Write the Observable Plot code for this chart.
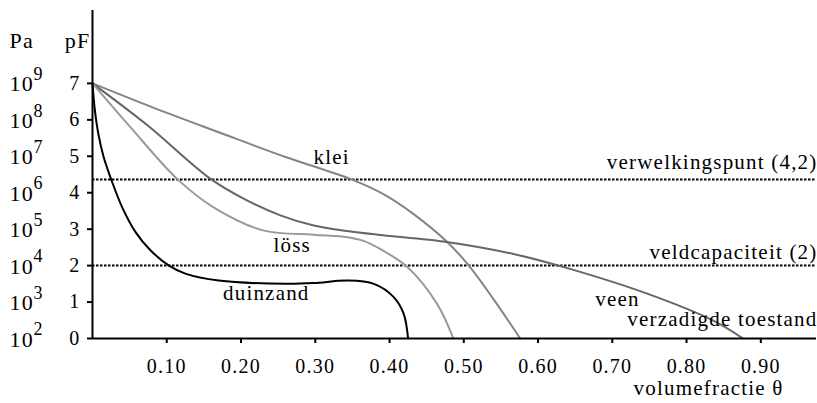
<!DOCTYPE html>
<html>
<head>
<meta charset="utf-8">
<script src="https://cdn.jsdelivr.net/npm/d3@7"></script>
<script src="https://cdn.jsdelivr.net/npm/@observablehq/plot@0.6"></script>
<style>
  html, body { margin: 0; padding: 0; background: #fff; }
  #chart svg, #chart svg text { font-family: "Liberation Serif", "Times New Roman", Times, serif !important; }
  #chart svg text { letter-spacing: 1.2px; }
  #chart svg [aria-label$="axis tick"] { stroke-width: 2px; }
</style>
</head>
<body>
<div id="chart"></div>
<script>
// ---- data ----
const thetaTicks = [0.1, 0.2, 0.3, 0.4, 0.5, 0.6, 0.7, 0.8, 0.9];
const pfTicks = [0, 1, 2, 3, 4, 5, 6, 7];
const paExponents = [2, 3, 4, 5, 6, 7, 8, 9];

const kleiTheta = [0, 0.080, 0.170, 0.260, 0.347, 0.390, 0.432, 0.477, 0.506, 0.540, 0.576];
const kleiPF    = [7, 6.35, 5.66, 4.98, 4.38, 3.98, 3.42, 2.66, 2.02, 1.08, 0];

const veenTheta = [0, 0.074, 0.159, 0.208, 0.253, 0.298, 0.343, 0.388, 0.477, 0.567, 0.643, 0.747, 0.836, 0.876];
const veenPF    = [7, 5.85, 4.38, 3.79, 3.38, 3.10, 2.95, 2.84, 2.65, 2.32, 1.91, 1.23, 0.49, 0];

const lossTheta = [0, 0.051, 0.114, 0.163, 0.231, 0.298, 0.343, 0.365, 0.388, 0.424, 0.464, 0.486];
const lossPF    = [7, 5.80, 4.38, 3.60, 2.96, 2.85, 2.78, 2.68, 2.45, 1.96, 0.95, 0];

const duinTheta = [0, 0.003, 0.008, 0.015, 0.026, 0.040, 0.058, 0.078, 0.103, 0.125, 0.170, 0.260, 0.298, 0.343, 0.379, 0.406, 0.419, 0.425];
const duinPF    = [7, 6.30, 5.60, 4.98, 4.32, 3.60, 2.92, 2.42, 2.00, 1.78, 1.59, 1.50, 1.52, 1.59, 1.50, 1.13, 0.68, 0];

const soilNames  = ["klei", "löss", "duinzand", "veen"];
const soilLabelTheta = [0.322, 0.269, 0.234, 0.707];
const soilLabelPF    = [4.98, 2.55, 1.23, 1.09];

const refLinePF = [4.36, 2];
const refNames  = ["verwelkingspunt (4,2)", "veldcapaciteit (2)", "verzadigde toestand"];
const refLabelPF = [4.84, 2.37, 0.54];

// ---- build ----
const toRows = (xs, ys) => xs.map((x, i) => ({theta: x, pf: ys[i]}));
const series = [
  {rows: toRows(kleiTheta, kleiPF), color: "#858585"},
  {rows: toRows(veenTheta, veenPF), color: "#666666"},
  {rows: toRows(lossTheta, lossPF), color: "#9a9a9a"},
  {rows: toRows(duinTheta, duinPF), color: "#000000"}
];

const font = "'Liberation Serif', 'Times New Roman', serif";

const chart = Plot.plot({
  width: 817,
  height: 403,
  marginLeft: 92,
  marginRight: 1,
  marginTop: 10,
  marginBottom: 65,
  style: {fontFamily: font, fontSize: "20px", color: "#000", background: "#fff", overflow: "visible"},
  x: {domain: [0, 0.975], ticks: thetaTicks, tickFormat: d3.format(".2f"), tickSize: 5, tickPadding: 15, label: null},
  y: {domain: [0, 9], ticks: pfTicks, tickFormat: d3.format("d"), tickSize: 5, tickPadding: 7, label: null},
  marks: [
    Plot.ruleY(refLinePF, {stroke: "#000", strokeWidth: 2, strokeDasharray: "2.5,1.5"}),
    ...series.map(s => Plot.line(s.rows, {x: "theta", y: "pf", stroke: s.color, strokeWidth: 2, curve: "catmull-rom"})),
    Plot.ruleX([0], {stroke: "#000", strokeWidth: 2}),
    Plot.ruleY([0], {stroke: "#000", strokeWidth: 2}),
    Plot.text(soilNames, {x: (d, i) => soilLabelTheta[i], y: (d, i) => soilLabelPF[i], text: d => d, fontSize: 21, fill: "#000"}),
    Plot.text(refNames, {y: (d, i) => refLabelPF[i], text: d => d, frameAnchor: "right", textAnchor: "end", lineAnchor: "middle", dx: 1, fontSize: 21, fill: "#000"}),
    Plot.text(paExponents, {y: d => d - 2, text: () => "10", frameAnchor: "left", textAnchor: "start", lineAnchor: "middle", dx: -83, dy: 1, fontSize: 22, fill: "#000"}),
    Plot.text(paExponents, {y: d => d - 2, text: d => String(d), frameAnchor: "left", textAnchor: "start", lineAnchor: "middle", dx: -59, dy: -9, fontSize: 18, fill: "#000"}),
    Plot.text(["Pa"], {text: d => d, frameAnchor: "top-left", textAnchor: "start", lineAnchor: "middle", dx: -83, dy: 30, fontSize: 22, fill: "#000"}),
    Plot.text(["pF"], {text: d => d, frameAnchor: "top-left", textAnchor: "end", lineAnchor: "middle", dx: -2, dy: 30, fontSize: 22, fill: "#000"}),
    Plot.text(["volumefractie θ"], {text: d => d, frameAnchor: "bottom-right", textAnchor: "end", lineAnchor: "middle", dx: -33, dy: 50, fontSize: 21, fill: "#000"})
  ]
});
document.getElementById("chart").appendChild(chart);
</script>
</body>
</html>
